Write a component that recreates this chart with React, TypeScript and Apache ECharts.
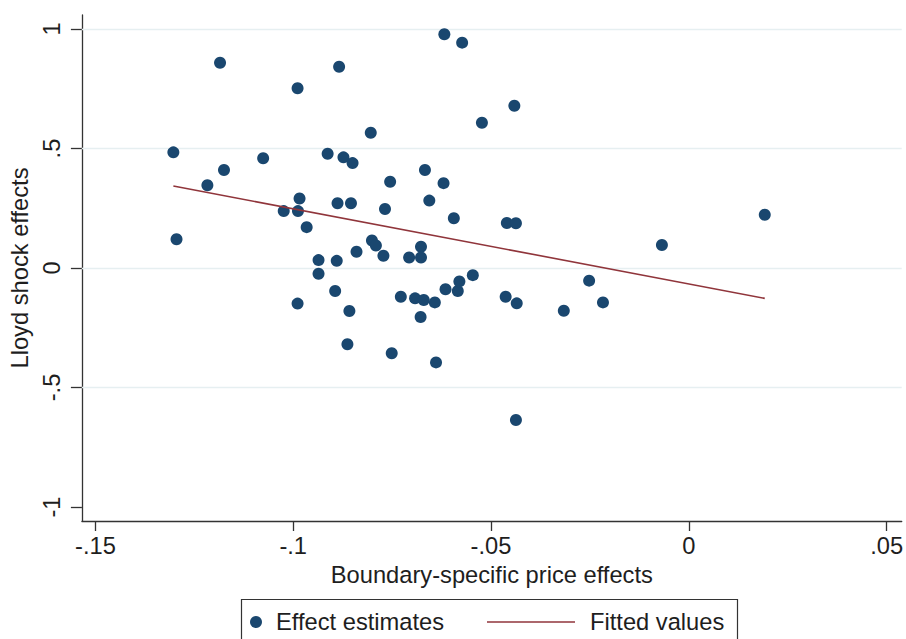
import React, { useEffect, useRef } from "react";
import * as echarts from "echarts";

// Boundary-specific price effects (x) and Lloyd shock effects (y)
const priceEffects = [
  -0.1303, -0.1295, -0.1217, -0.1185, -0.1175, -0.1076, -0.1024, -0.0989, -0.0984, -0.0988,
  -0.0989, -0.0966, -0.0936, -0.0936, -0.0913, -0.0884, -0.0888, -0.0894, -0.089, -0.0873,
  -0.085, -0.0854, -0.0858, -0.0863, -0.084, -0.0804, -0.0801, -0.0791, -0.0772, -0.0768,
  -0.0755, -0.0751, -0.0728, -0.0707, -0.0692, -0.0677, -0.0677, -0.0678, -0.067, -0.0667,
  -0.0656, -0.0642, -0.0639, -0.062, -0.0618, -0.0615, -0.0594, -0.0584, -0.058, -0.0573,
  -0.0546, -0.0523, -0.0463, -0.046, -0.0441, -0.0437, -0.0435, -0.0437, -0.0316, -0.0252,
  -0.0217, -0.0068, 0.0192,
];
const shockEffects = [
  0.484, 0.12, 0.346, 0.859, 0.41, 0.459, 0.238, 0.752, 0.291, 0.238,
  -0.149, 0.171, 0.033, -0.024, 0.478, 0.842, 0.271, -0.096, 0.03, 0.463,
  0.439, 0.271, -0.18, -0.319, 0.068, 0.566, 0.115, 0.094, 0.051, 0.247,
  0.361, -0.357, -0.12, 0.044, -0.127, 0.089, 0.044, -0.205, -0.134, 0.41,
  0.282, -0.144, -0.395, 0.355, 0.978, -0.089, 0.208, -0.096, -0.056, 0.943,
  -0.03, 0.608, -0.12, 0.188, 0.679, 0.187, -0.148, -0.636, -0.179, -0.053,
  -0.144, 0.096, 0.223,
];

// Fitted line end points
const fittedX = [-0.1303, 0.0192];
const fittedY = [0.343, -0.127];

const xTickValues = [-0.15, -0.1, -0.05, 0, 0.05];
const xTickLabels = ["-.15", "-.1", "-.05", "0", ".05"];
const yTickValues = [-1, -0.5, 0, 0.5, 1];
const yTickLabels = ["-1", "-.5", "0", ".5", "1"];
const yGridValues = [-0.5, 0, 0.5, 1];

const FONT = "'Liberation Sans', Arial, Helvetica, sans-serif";
const FS = 23.7;
const TEXT = "#1e1e1e";
const AXIS = "#333333";

function labelFor(values: number[], labels: string[], v: number) {
  for (let i = 0; i < values.length; i++) {
    if (Math.abs(values[i] - v) < 1e-9) return labels[i];
  }
  return "";
}

export default function App() {
  const ref = useRef<HTMLDivElement>(null);
  useEffect(() => {
    if (!ref.current) return;
    const chart = echarts.init(ref.current, null, { renderer: "svg" });
    const points = priceEffects.map((x, i) => [x, shockEffects[i]]);
    const fitted = fittedX.map((x, i) => [x, fittedY[i]]);
    chart.setOption({
      animation: false,
      backgroundColor: "#ffffff",
      textStyle: { fontFamily: FONT },
      grid: { left: 78, top: 15, right: 4, bottom: 118, containLabel: false },
      xAxis: {
        type: "value",
        min: -0.15342,
        max: 0.05382,
        name: "Boundary-specific price effects",
        nameLocation: "middle",
        nameGap: 37,
        nameTextStyle: { fontSize: FS, color: TEXT, fontFamily: FONT },
        axisLine: { show: true, onZero: false, lineStyle: { color: AXIS, width: 1.3 } },
        axisTick: {
          show: true,
          inside: false,
          length: 10,
          customValues: xTickValues,
          lineStyle: { color: AXIS, width: 1.3 },
        },
        axisLabel: {
          customValues: xTickValues,
          margin: 13,
          fontSize: FS,
          color: TEXT,
          fontFamily: FONT,
          showMinLabel: true,
          showMaxLabel: true,
          formatter: (v: number) => labelFor(xTickValues, xTickLabels, v),
        },
        splitLine: { show: false },
      },
      yAxis: {
        type: "value",
        min: -1.0586,
        max: 1.0586,
        name: "Lloyd shock effects",
        nameLocation: "middle",
        nameGap: 45,
        nameTextStyle: { fontSize: FS, color: TEXT, fontFamily: FONT },
        axisLine: { show: true, onZero: false, lineStyle: { color: AXIS, width: 1.3 } },
        axisTick: {
          show: true,
          inside: false,
          length: 11,
          customValues: yTickValues,
          lineStyle: { color: AXIS, width: 1.3 },
        },
        axisLabel: {
          customValues: yTickValues,
          rotate: 90,
          margin: 18,
          fontSize: FS,
          color: TEXT,
          fontFamily: FONT,
          formatter: (v: number) => labelFor(yTickValues, yTickLabels, v),
        },
        splitLine: { show: false },
      },
      legend: [
        {
          data: ["Effect estimates"],
          left: 250,
          top: 610,
          padding: 0,
          itemWidth: 12,
          itemHeight: 12,
          textStyle: { fontSize: FS, color: TEXT, fontFamily: FONT, padding: [0, 0, 0, 9] },
        },
        {
          data: [{ name: "Fitted values", icon: "rect" }],
          left: 487,
          top: 610,
          padding: 0,
          itemWidth: 88,
          itemHeight: 1.6,
          textStyle: { fontSize: FS, color: TEXT, fontFamily: FONT, padding: [0, 0, 0, 10] },
        },
      ],
      graphic: [
        {
          type: "rect",
          shape: { x: 241.5, y: 599.5, width: 496, height: 60 },
          style: { fill: "none", stroke: AXIS, lineWidth: 1.2 },
          silent: true,
        },
      ],
      series: [
        {
          name: "Effect estimates",
          type: "scatter",
          data: points,
          symbol: "circle",
          symbolSize: 12,
          itemStyle: { color: "#1a476f", opacity: 1 },
          z: 2,
          markLine: {
            silent: true,
            z: 1,
            symbol: ["none", "none"],
            label: { show: false },
            lineStyle: { color: "#e6eff1", width: 1.3, type: "solid" },
            emphasis: { disabled: true },
            data: yGridValues.map((v) => ({ yAxis: v })),
          },
        },
        {
          name: "Fitted values",
          type: "line",
          data: fitted,
          symbol: "none",
          lineStyle: { color: "#90353b", width: 1.6 },
          itemStyle: { color: "#90353b" },
          z: 3,
        },
      ],
    });
    return () => chart.dispose();
  }, []);
  return (
    <div
      ref={ref}
      style={{ position: "fixed", left: 0, top: 0, width: 906, height: 639, background: "#fff" }}
    />
  );
}
